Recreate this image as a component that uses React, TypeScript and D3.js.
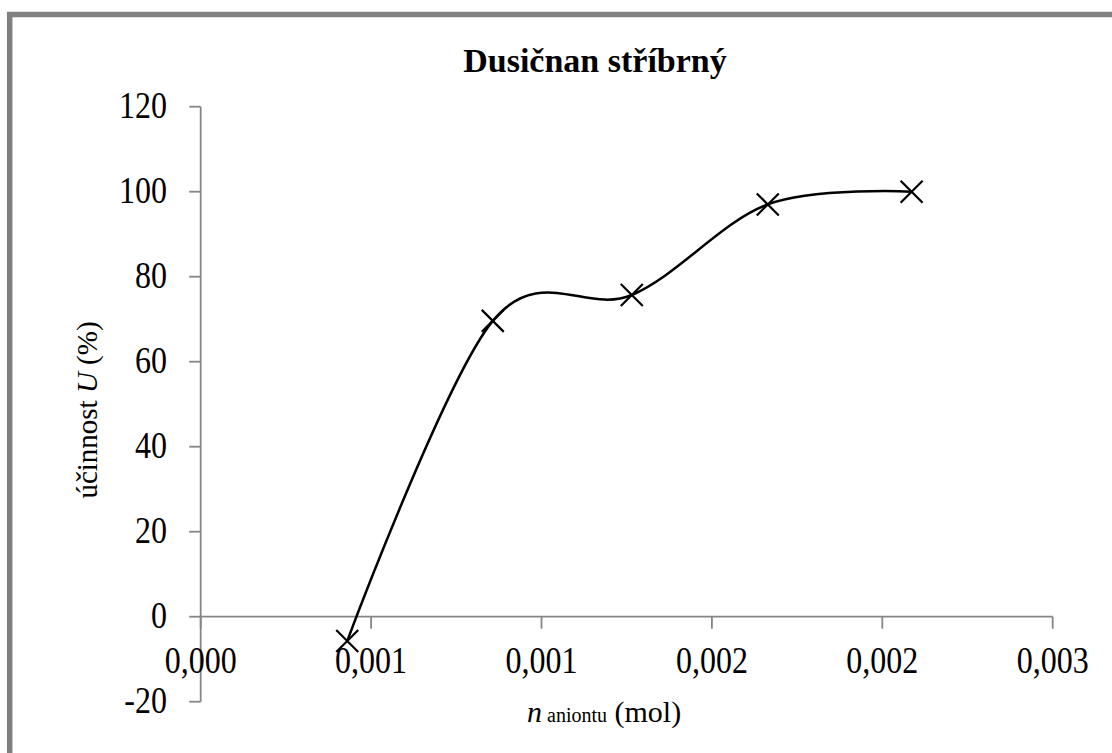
import React from "react";
import * as d3 from "d3";

const chartTitle = "Dusičnan stříbrný";
const xValues = [0.00043, 0.000857, 0.001265, 0.001664, 0.002086];
const yValues = [-5.7, 69.6, 75.7, 97.0, 100.0];
const xTicks = [0, 0.0005, 0.001, 0.0015, 0.002, 0.0025];
const xTickLabels = ["0,000", "0,001", "0,001", "0,002", "0,002", "0,003"];
const yTicks = [-20, 0, 20, 40, 60, 80, 100, 120];

const W = 1112;
const H = 753;
const FONT = "'Liberation Serif', 'Times New Roman', serif";

export default function App() {
  const x = d3.scaleLinear().domain([0, 0.0025]).range([200.7, 1052.7]);
  const y = d3.scaleLinear().domain([-20, 120]).range([701.7, 106.7]);
  const pts: [number, number][] = xValues.map((v, i) => [x(v), y(yValues[i])]);
  const line = d3.line().curve(d3.curveCardinal.tension(0))(pts) || "";
  const s = 11;
  const axisColor = "#868686";

  return (
    <svg
      width={W}
      height={H}
      style={{ position: "absolute", left: 0, top: 0, background: "#fff" }}
    >
      <rect x={0} y={0} width={W} height={H} fill="#fff" />
      <rect
        x={9.7}
        y={14.5}
        width={W + 20}
        height={H + 20}
        fill="none"
        stroke="#808080"
        strokeWidth={5.5}
      />
      <text
        x={595}
        y={72}
        textAnchor="middle"
        fontFamily={FONT}
        fontWeight="bold"
        fontSize={34}
        fill="#000"
      >
        {chartTitle}
      </text>
      {/* y axis */}
      <line x1={x(0)} x2={x(0)} y1={y(-20)} y2={y(120)} stroke={axisColor} strokeWidth={1.8} />
      {yTicks.map((t) => (
        <g key={"yt" + t}>
          <line x1={x(0) - 11.5} x2={x(0)} y1={y(t)} y2={y(t)} stroke={axisColor} strokeWidth={1.8} />
          <text
            transform={`translate(167,${y(t) + 11.5}) scale(1,1.17)`}
            textAnchor="end"
            fontFamily={FONT}
            fontSize={32}
            fill="#000"
          >
            {String(t)}
          </text>
        </g>
      ))}
      {/* x axis */}
      <line x1={x(0)} x2={x(0.0025)} y1={y(0)} y2={y(0)} stroke={axisColor} strokeWidth={1.8} />
      {xTicks.map((t, i) => (
        <g key={"xt" + i}>
          <line x1={x(t)} x2={x(t)} y1={y(0)} y2={y(0) + 12} stroke={axisColor} strokeWidth={1.8} />
          <text
            transform={`translate(${x(t)},673) scale(1,1.17)`}
            textAnchor="middle"
            fontFamily={FONT}
            fontSize={32}
            fill="#000"
          >
            {xTickLabels[i]}
          </text>
        </g>
      ))}
      {/* axis titles */}
      <text
        transform="translate(97,410) rotate(-90)"
        textAnchor="middle"
        fontFamily={FONT}
        fontSize={29}
        fill="#000"
      >
        účinnost <tspan fontStyle="italic">U</tspan> (%)
      </text>
      <text x={527} y={722} fontFamily={FONT} fontSize={30} fill="#000">
        <tspan fontStyle="italic">n</tspan>
        <tspan fontSize={20}> aniontu</tspan>
        <tspan> (mol)</tspan>
      </text>
      {/* series */}
      <path d={line} fill="none" stroke="#000" strokeWidth={2.5} />
      {pts.map(([cx, cy], i) => (
        <path
          key={"m" + i}
          d={`M${cx - s},${cy - s}L${cx + s},${cy + s}M${cx - s},${cy + s}L${cx + s},${cy - s}`}
          stroke="#000"
          strokeWidth={2.2}
          fill="none"
        />
      ))}
    </svg>
  );
}
